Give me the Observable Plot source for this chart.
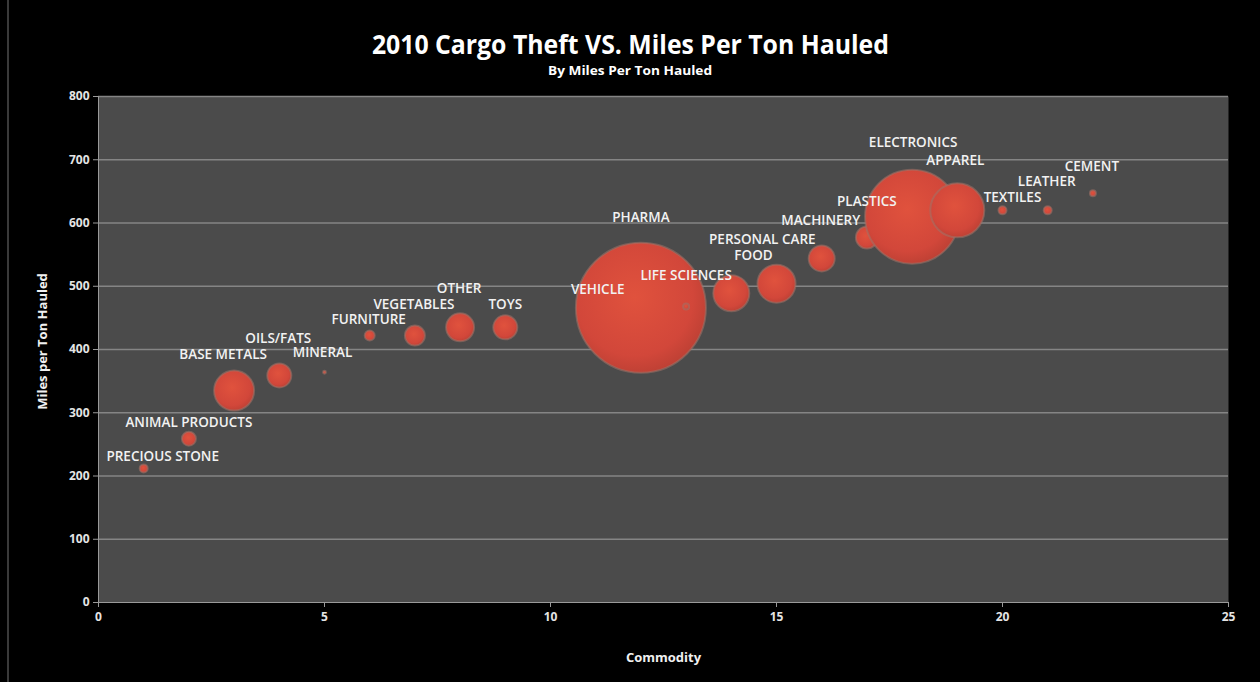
<!DOCTYPE html>
<html>
<head>
<meta charset="utf-8">
<script src="https://cdn.jsdelivr.net/npm/d3@7"></script>
<script src="https://cdn.jsdelivr.net/npm/@observablehq/plot@0.6"></script>
<style>
  html, body { margin: 0; padding: 0; background: #000; }
  #wrap { position: relative; width: 1260px; height: 682px; background: #000; overflow: hidden; }
  #head { position: relative; height: 85px; }
  .ttl { position: absolute; left: 0; width: 1260px; text-align: center; color: #fff; font-family: "Open Sans", sans-serif; font-weight: bold; line-height: 1; }
  .ttl span { display: inline-block; transform-origin: 50% 50%; white-space: nowrap; }
  #edge { position: absolute; left: 7px; top: 0; width: 2px; height: 682px; background: #3a3a3a; }
</style>
</head>
<body>
<div id="wrap">
  <div id="edge"></div>
  <div id="head">
    <div class="ttl" id="title" style="top:30px;font-size:27px;"><span>2010 Cargo Theft VS. Miles Per Ton Hauled</span></div>
    <div class="ttl" id="subtitle" style="top:65px;font-size:12px;"><span>By Miles Per Ton Hauled</span></div>
  </div>
  <div id="chart"></div>
</div>
<script>
// ---- data ----
const commodities = ["PRECIOUS STONE","ANIMAL PRODUCTS","BASE METALS","OILS/FATS","MINERAL","FURNITURE","VEGETABLES","OTHER","TOYS","VEHICLE","PHARMA","LIFE SCIENCES","PERSONAL CARE","FOOD","MACHINERY","PLASTICS","ELECTRONICS","APPAREL","TEXTILES","LEATHER","CEMENT"];
const commodityIndex = [1,2,3,4,5,6,7,8,9,11,12,13,14,15,16,17,18,19,20,21,22];
const milesPerTon = [212,259,335,359,364,422,422,435,435,470,466,468,489,504,544,577,610,620,620,620,647];
const theftSize = [16,49,400,144,2,25,100,196,144,64,4225,9,324,361,169,121,2209,729,16,16,9];
const xTicks = [0,5,10,15,20,25];
const yTicks = [0,100,200,300,400,500,600,700,800];

// label nudges (pixels) to mimic the original label placement
const labelDx = [19,0,-11,-1,-2,-1,-1,-1,0,2,0,0,31,-23,-1,0,1,-2,10,-1,-1];
const labelDy = [-12,-16,-36,-37,-20,-16,-31,-39,-23,-16,-90,-31,-54,-28,-38,-36,-74,-50,-13,-29,-27];

const data = commodities.map((name, i) => ({
  name, x: commodityIndex[i], y: milesPerTon[i], size: theftSize[i], i
}));

const chart = Plot.plot({
  width: 1260,
  height: 597,
  marginTop: 11,
  marginLeft: 98,
  marginRight: 32,
  marginBottom: 80,
  x: { domain: [0, 25] },
  y: { domain: [0, 800] },
  r: { type: "sqrt", domain: [0, 4225], range: [0, 65] },
  style: { background: "#000", color: "#e4e4e4", fontFamily: "'Open Sans', sans-serif", fontSize: "12px", fontWeight: "bold" },
  marks: [
    Plot.frame({ fill: "#4b4b4b", stroke: null }),
    Plot.gridY(yTicks.slice(1), { stroke: "#858585", strokeOpacity: 1, strokeWidth: 1.5 }),
    Plot.axisY(yTicks, { tickSize: 5, tickPadding: 4, stroke: "#9a9a9a", label: null, fontSize: 12 }),
    Plot.axisX(xTicks, { tickSize: 5, tickPadding: 5, stroke: "#9a9a9a", label: null, fontSize: 12 }),
    Plot.text(["Miles per Ton Hauled"], { frameAnchor: "left", textAnchor: "middle", dx: -56, dy: -8, rotate: -90, fill: "#f0f0f0", fontSize: 13, fontWeight: "bold" }),
    Plot.text(["Commodity"], { frameAnchor: "bottom", dy: 59, fill: "#f0f0f0", fontSize: 13, fontWeight: "bold" }),
    Plot.ruleX([0], { stroke: "#9a9a9a" }),
    Plot.ruleY([0], { stroke: "#9a9a9a" }),
    Plot.dot(data, { x: "x", y: "y", r: "size", sort: null, fill: "url(#bubbleGrad)", stroke: "#a07268", strokeOpacity: 0.55, strokeWidth: 2 }),
    Plot.text(data, { x: "x", y: "y", text: "name", fill: "#f2f2f2", fontSize: 13.5, fontWeight: 600, fontFamily: "'Open Sans', sans-serif" })
  ]
});

// gradient for the bubbles
const ns = "http://www.w3.org/2000/svg";
const defs = document.createElementNS(ns, "defs");
defs.innerHTML = `<radialGradient id="bubbleGrad" cx="45%" cy="42%" r="60%">
  <stop offset="0%" stop-color="#e0523d"/>
  <stop offset="75%" stop-color="#d2473a"/>
  <stop offset="100%" stop-color="#bd4034"/>
</radialGradient>`;
chart.insertBefore(defs, chart.firstChild);

// nudge labels
const textGroups = chart.querySelectorAll('g[aria-label="text"]');
const labelGroup = textGroups[textGroups.length - 1];
labelGroup.querySelectorAll("text").forEach((t, k) => {
  const tr = t.getAttribute("transform") || "";
  t.setAttribute("transform", `${tr} translate(${labelDx[k]},${labelDy[k]})`);
});

document.getElementById("chart").appendChild(chart);

// fit title widths to the reference
function fit(id, target) {
  const s = document.querySelector(`#${id} span`);
  const w = s.getBoundingClientRect().width;
  s.style.transform = `scaleX(${target / w})`;
}
fit("title", 517);
fit("subtitle", 164);
</script>
</body>
</html>
